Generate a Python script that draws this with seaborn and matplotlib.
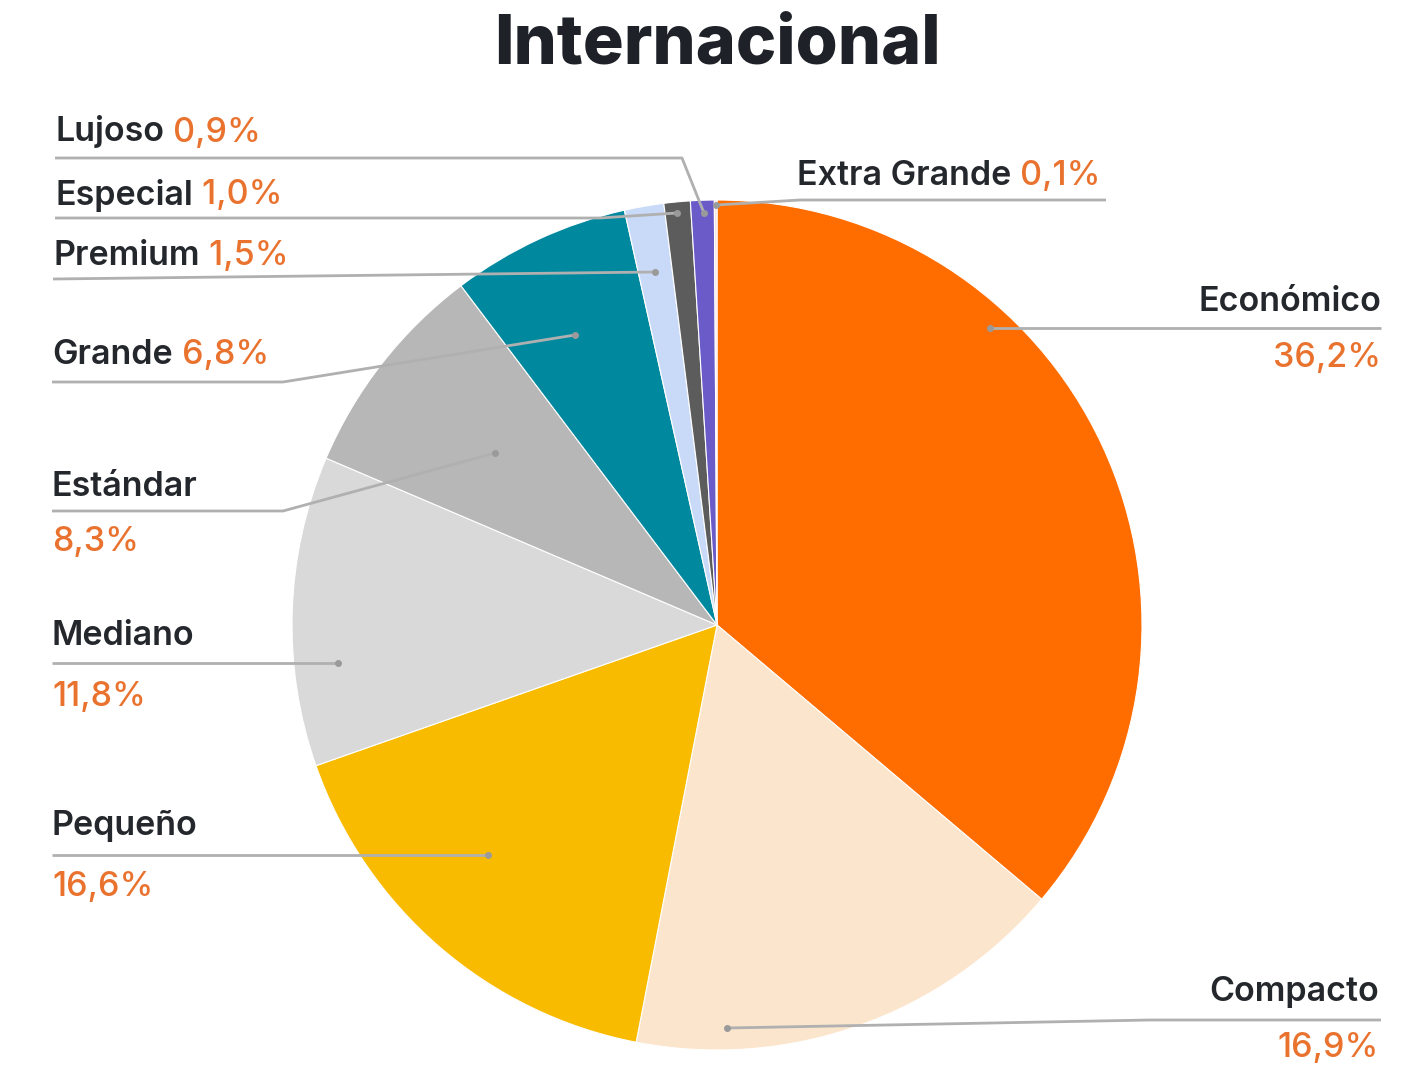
import matplotlib
matplotlib.use("Agg")
import matplotlib.pyplot as plt
import seaborn as sns

# data
categories = ["Económico", "Compacto", "Pequeño", "Mediano", "Estándar",
              "Grande", "Premium", "Especial", "Lujoso", "Extra Grande"]
shares = [36.2, 16.9, 16.6, 11.8, 8.3, 6.8, 1.5, 1.0, 0.9, 0.1]
slice_colors = ["#FF6D01", "#FCE5CD", "#F9BB00", "#D9D9D9", "#B7B7B7",
                "#00889F", "#C9DAF8", "#5C5C5C", "#6B5BC9", "#F6E4E4"]

sns.set_theme(style="white")
plt.rcParams['font.family'] = ['Inter', 'DejaVu Sans']

W, H = 1404, 1068
DARK = "#24272C"
ORANGE = "#E9722E"
LINE = "#B0B0B0"

fig = plt.figure(figsize=(W / 100, H / 100), dpi=100)
ax = fig.add_axes([0, 0, 1, 1])


def Y(y):
    # pixel row -> data y
    return H - y


ax.pie(shares, colors=sns.color_palette(slice_colors), startangle=90,
       counterclock=False, center=(717, Y(625)), radius=425,
       wedgeprops=dict(edgecolor="white", linewidth=0.8))
ax.set_xlim(0, W)
ax.set_ylim(0, H)
ax.set_aspect("equal")
ax.axis("off")

fmt = {c: f"{v:.1f}".replace(".", ",") + "%" for c, v in zip(categories, shares)}

# label layout: (x, y of name, y of value or None for inline, ha)
layout = {
    "Lujoso": (55, 132, None, "left"),
    "Especial": (55, 195, None, "left"),
    "Premium": (53, 256, None, "left"),
    "Grande": (52, 355, None, "left"),
    "Estándar": (52, 487, 542, "left"),
    "Mediano": (52, 636, 697, "left"),
    "Pequeño": (52, 826, 887, "left"),
    "Económico": (1381, 302, 358, "right"),
    "Compacto": (1379, 992, 1048, "right"),
    "Extra Grande": (797, 176, None, "left"),
}

# leader paths, last point is the dot inside the slice
leaders = {
    "Lujoso": [(55, 158), (682, 158), (704, 213)],
    "Especial": [(55, 218), (600, 218), (677, 213)],
    "Premium": [(53, 279), (655, 272)],
    "Grande": [(52, 382), (283, 382), (575, 335)],
    "Estándar": [(52, 511), (283, 511), (495, 453)],
    "Mediano": [(52, 663), (338, 663)],
    "Pequeño": [(52, 855), (488, 855)],
    "Económico": [(1381, 328), (990, 328)],
    "Compacto": [(1381, 1020), (1150, 1020), (727, 1028)],
    "Extra Grande": [(1106, 200), (800, 200), (716, 205)],
}

fs = 24.5
for cat in categories:
    x, y, yv, ha = layout[cat]
    t = ax.text(x, Y(y), cat, ha=ha, va="center", fontsize=fs,
                color=DARK, fontweight="semibold")
    if yv is None:
        ax.annotate(" " + fmt[cat], xy=(1, 0), xycoords=t, ha="left",
                    va="bottom", fontsize=fs, color=ORANGE,
                    fontweight="medium")
    else:
        ax.text(x, Y(yv), fmt[cat], ha=ha, va="center", fontsize=fs,
                color=ORANGE, fontweight="medium")
    pts = leaders[cat]
    ax.plot([p[0] for p in pts], [Y(p[1]) for p in pts], color=LINE,
            lw=2, solid_capstyle="butt", zorder=3)
    ax.plot(pts[-1][0], Y(pts[-1][1]), "o", ms=4, color="#9A9A9A", zorder=4)

ax.text(717, Y(45), "Internacional", ha="center", va="center",
        fontsize=49, fontweight="heavy", color="#1E2127")

fig.savefig("out.png", dpi=100)
